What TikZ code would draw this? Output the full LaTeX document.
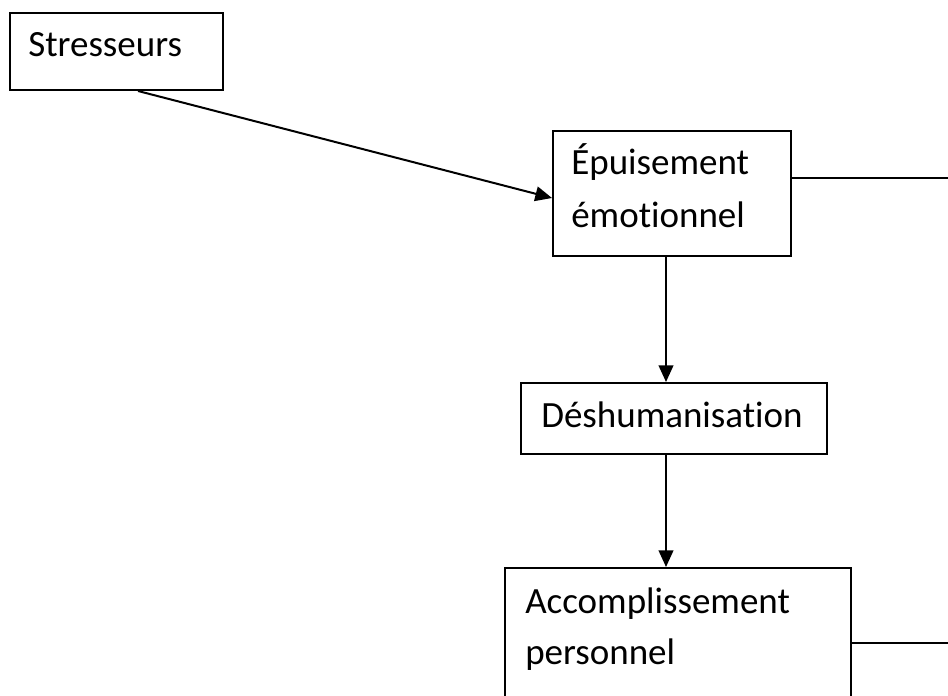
\documentclass[tikz,border=0pt]{standalone}
\usepackage{fontspec}
\setmainfont{Carlito}[Ligatures=NoCommon]
\usetikzlibrary{arrows.meta,calc}
\begin{document}
\begin{tikzpicture}[x=0.75pt,y=-0.75pt,
  box/.style={draw,line width=1.5pt,inner sep=0pt,anchor=north west},
  txt/.style={anchor=base west,inner sep=0pt,font=\fontsize{27.75}{39.75}\selectfont},
  conn/.style={line width=1.5pt},
  arr/.style={conn,-{Triangle[length=12.5pt,width=11pt]}}]
\useasboundingbox (0,0) rectangle (948,695);
% boxes
\node[box,minimum width=159.75pt,minimum height=57.75pt] (s) at (9,12) {};
\node[box,minimum width=178.5pt,minimum height=93.75pt] (e) at (552,130) {};
\node[box,minimum width=229.5pt,minimum height=53.25pt] (d) at (520,382) {};
\node[box,minimum width=259.5pt,minimum height=114.75pt] (a) at (504,567) {};
% texts
\node[txt] (st) at (28,57) {Stresseurs};
\node[txt] (e1) at (571,175) {Épuisement};
\node[txt] (e2) at (571,228) {émotionnel};
\node[txt] (dt) at (541,427) {Déshumanisation};
\node[txt] (a1) at (525,613) {Accomplissement};
\node[txt] (a2) at (525,664) {personnel};
% helper coordinates
\coordinate (vx) at (666,0);
\coordinate (r1) at (948,178);
\coordinate (r2) at (948,643);
% connectors
\draw[arr] ($(s.south west)+(129,0)$) -- ($(e.west)+(0,4.5)$);
\draw[conn] (e.east |- r1) -- (r1);
\draw[arr] (e.south -| vx) -- (d.north -| vx);
\draw[arr] (d.south -| vx) -- (a.north -| vx);
\draw[conn] (a.east |- r2) -- (r2);
\end{tikzpicture}
\end{document}
